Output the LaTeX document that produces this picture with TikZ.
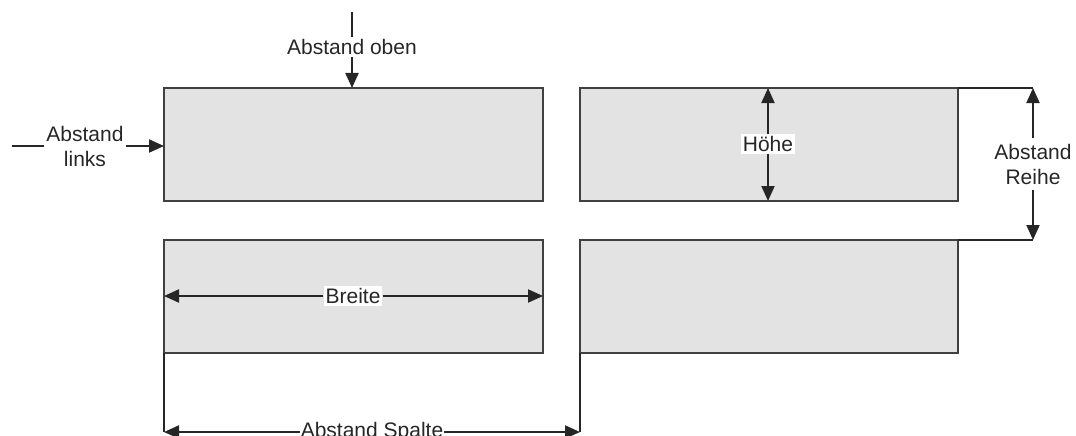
\documentclass[tikz,border=0pt]{standalone}
\usepackage{fontspec}
\setmainfont{Liberation Sans}
\usetikzlibrary{arrows.meta}
\begin{document}
\begin{tikzpicture}[x=1pt,y=-1pt,
  box/.style={draw=black!75,fill=black!11,line width=2pt,anchor=north west,minimum width=379pt,minimum height=113pt,inner sep=0pt,outer sep=0pt},
  lbl/.style={font=\fontsize{21}{25}\selectfont,align=center,inner sep=2pt,text=black!85},
  wlbl/.style={lbl,fill=white},
  ln/.style={line width=2pt,draw=black!85},
  arr/.style={ln,-{Triangle[length=15pt,width=13pt]}}]
\useasboundingbox (0,0) rectangle (1076,436);
\node[box] (b1) at (164,88) {};
\node[box,minimum width=378pt] (b2) at (580,88) {};
\node[box] (b3) at (164,240) {};
\node[box,minimum width=378pt] (b4) at (580,240) {};
% Abstand oben
\coordinate (ot) at (352,12);
\node[lbl] (ol) at (352,47) {Abstand oben};
\draw[ln] (ot) -- (ol.north);
\draw[arr] (ol.south) -- (ol.south |- b1.north);
% Abstand links
\coordinate (lt) at (12,146);
\node[lbl] (ll) at (85,146) {Abstand\\links};
\draw[ln] (lt) -- (ll.west |- lt);
\draw[arr] (ll.east |- lt) -- (lt -| b1.west);
% Hoehe
\node[wlbl] (h) at (768,144) {Höhe};
\draw[arr] (h.north) -- (h.north |- b2.north);
\draw[arr] (h.south) -- (h.south |- b2.south);
% Abstand Reihe
\coordinate (r1) at (1033,88);
\coordinate (r2) at (1033,240);
\draw[ln] (b2.north east) -- (r1);
\draw[ln] (b4.north east) -- (r2);
\node[lbl,inner sep=6pt] (rl) at (1033,164) {Abstand\\Reihe};
\draw[arr] (rl.north) -- (r1);
\draw[arr] (rl.south) -- (r2);
% Breite
\node[wlbl] (br) at (353,296) {Breite};
\draw[arr] (br.west) -- (br.west -| b3.west);
\draw[arr] (br.east) -- (br.east -| b3.east);
% Abstand Spalte
\coordinate (s1) at (164,432);
\coordinate (s2) at (580,432);
\draw[ln] (b3.south west) -- (s1);
\draw[ln] (b4.south west) -- (s2);
\node[lbl,inner sep=1pt] (sl) at (372,432) {Abstand Spalte};
\draw[arr] (sl.west) -- (s1);
\draw[arr] (sl.east) -- (s2);
\end{tikzpicture}
\end{document}
